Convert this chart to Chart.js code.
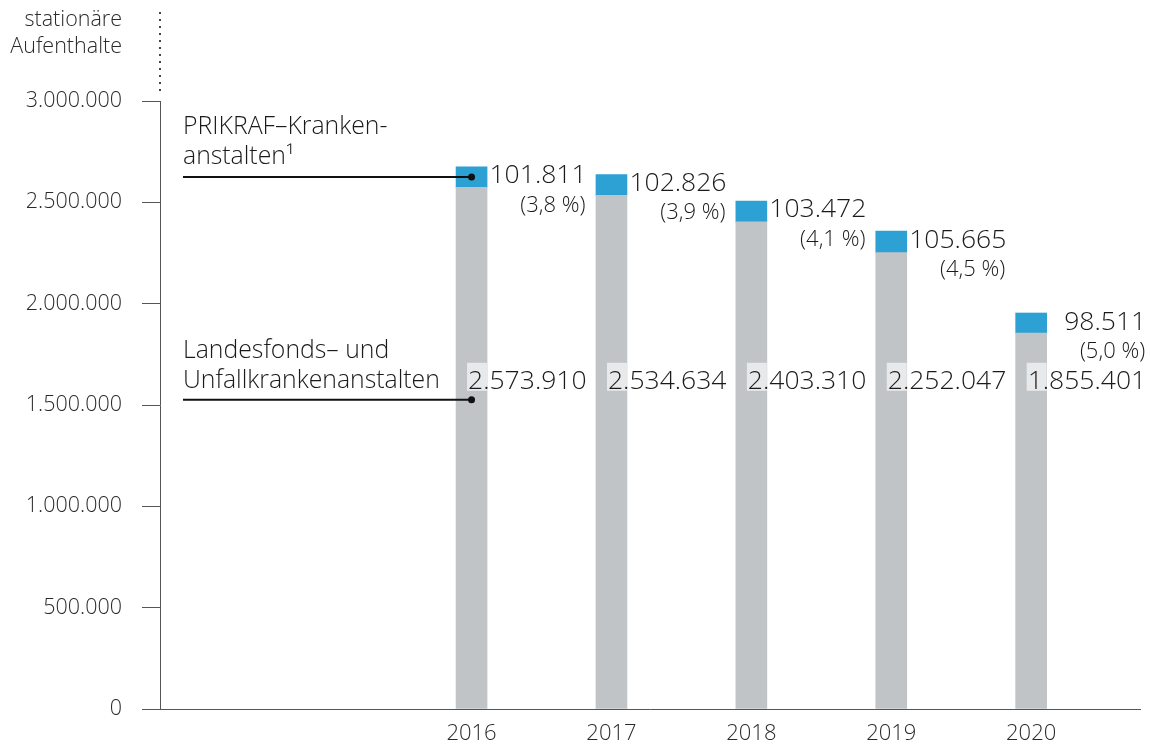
<!DOCTYPE html>
<html>
<head>
<meta charset="utf-8">
<script src="https://cdn.jsdelivr.net/npm/chart.js@4.4.1/dist/chart.umd.min.js"></script>
<style>
  html, body { margin: 0; padding: 0; background: #fff; }
  #wrap { width: 1150px; height: 747px; position: relative; }
</style>
</head>
<body>
<div id="wrap"><canvas id="c"></canvas></div>
<script>
// ---- data ----
const years = [2016, 2017, 2018, 2019, 2020];
const landesfonds = [2573910, 2534634, 2403310, 2252047, 1855401];
const prikraf = [101811, 102826, 103472, 105665, 98511];
const prikrafShare = ['(3,8 %)', '(3,9 %)', '(4,1 %)', '(4,5 %)', '(5,0 %)'];
const yAxisTitle = ['stationäre', 'Aufenthalte'];
const prikrafLabel = ['PRIKRAF\u2013Kranken-', 'anstalten\u00B9'];
const landesLabel = ['Landesfonds\u2013 und', 'Unfallkrankenanstalten'];

const FONT = '"Open Sans", "Noto Sans", sans-serif';
const GRAY = '#c0c4c7';
const BLUE = '#2ea1d4';
const AXIS = '#555';
const TEXT = '#1a1a1a';

function fmt(n) { return String(n).replace(/\B(?=(\d{3})+(?!\d))/g, '.'); }

const labelPlugin = {
  id: 'labels',
  afterDraw(chart) {
    const ctx = chart.ctx;
    const xs = chart.scales.x, ys = chart.scales.y;
    const area = chart.chartArea;
    ctx.save();

    // dotted continuation of the y axis
    ctx.fillStyle = '#444';
    for (let yy = 12; yy <= area.top - 8; yy += 7) {
      ctx.fillRect(area.left - 1, yy, 2, 2);
    }

    // y axis title
    ctx.fillStyle = '#2a2a2a';
    ctx.font = '300 21.5px ' + FONT;
    ctx.textAlign = 'right';
    ctx.textBaseline = 'middle';
    ctx.fillText(yAxisTitle[0], area.left - 38, 20);
    ctx.fillText(yAxisTitle[1], area.left - 38, 47);

    const grayLabelBase = ys.getPixelForValue(1580000);

    years.forEach((yr, i) => {
      const xc = xs.getPixelForValue(yr);
      const barRight = xc + 15.5;
      // gray value label with translucent box
      ctx.font = '300 26.5px ' + FONT;
      ctx.textAlign = 'left';
      ctx.textBaseline = 'alphabetic';
      const t = fmt(landesfonds[i]);
      const w = ctx.measureText(t).width;
      const left = xc - 3.5;
      const right = left + w;
      ctx.fillStyle = 'rgba(255,255,255,0.63)';
      ctx.fillRect(left - 1, grayLabelBase - 26, barRight - left + 1, 28);
      ctx.fillStyle = TEXT;
      ctx.fillText(t, left, grayLabelBase);

      // blue value label
      const top = ys.getPixelForValue(landesfonds[i] + prikraf[i]);
      ctx.textAlign = 'right';
      ctx.fillText(fmt(prikraf[i]), right, top + 16.5);
      ctx.font = '300 22px ' + FONT;
      ctx.fillText(prikrafShare[i], right - 1, top + 45);
    });

    // annotations
    const x0 = xs.getPixelForValue(years[0]);
    const lineStart = area.left + 23;
    const y1 = ys.getPixelForValue(landesfonds[0] + prikraf[0] / 2);
    const y2 = grayLabelBase + 11;
    ctx.strokeStyle = '#111';
    ctx.fillStyle = '#111';
    ctx.lineWidth = 2;
    [y1, y2].forEach(yy => {
      ctx.beginPath();
      ctx.moveTo(lineStart, yy);
      ctx.lineTo(x0, yy);
      ctx.stroke();
      ctx.beginPath();
      ctx.arc(x0, yy, 3.5, 0, Math.PI * 2);
      ctx.fill();
    });
    ctx.fillStyle = TEXT;
    ctx.font = '300 24.8px ' + FONT;
    ctx.textAlign = 'left';
    ctx.textBaseline = 'alphabetic';
    ctx.fillText(prikrafLabel[0], lineStart, y1 - 43);
    ctx.fillText(prikrafLabel[1], lineStart, y1 - 13);
    ctx.fillText(landesLabel[0], lineStart, y2 - 42);
    ctx.fillText(landesLabel[1], lineStart, y2 - 12);

    ctx.restore();
  }
};

new Chart(document.getElementById('c'), {
  type: 'bar',
  data: {
    datasets: [
      {
        label: 'Landesfonds- und Unfallkrankenanstalten',
        data: years.map((yr, i) => ({ x: yr, y: landesfonds[i] })),
        backgroundColor: GRAY,
        barThickness: 31
      },
      {
        label: 'PRIKRAF-Krankenanstalten',
        data: years.map((yr, i) => ({ x: yr, y: prikraf[i] })),
        backgroundColor: BLUE,
        barThickness: 31
      }
    ]
  },
  options: {
    responsive: true,
    maintainAspectRatio: false,
    animation: false,
    events: [],
    layout: { padding: { top: 101, right: 10, bottom: 0, left: 0 } },
    plugins: { legend: { display: false }, tooltip: { enabled: false } },
    scales: {
      x: {
        type: 'linear',
        stacked: true,
        min: 2013.773,
        max: 2020.778,
        offset: false,
        afterBuildTicks(scale) { scale.ticks = years.map(v => ({ value: v })); },
        afterFit(scale) { scale.height = 38; },
        grid: { display: false, drawTicks: false },
        border: { display: true, color: AXIS, width: 1 },
        ticks: {
          padding: 12,
          color: '#2a2a2a',
          font: { family: FONT, size: 22, weight: '300' },
          callback: v => String(v),
          maxRotation: 0,
          autoSkip: false
        }
      },
      y: {
        stacked: true,
        min: 0,
        max: 3000000,
        afterFit(scale) { scale.width = 160; },
        grid: { display: true, drawOnChartArea: false, drawTicks: true, tickLength: 18, color: AXIS, lineWidth: 1 },
        border: { display: true, color: AXIS, width: 1 },
        ticks: {
          stepSize: 500000,
          padding: 20,
          color: '#2a2a2a',
          font: { family: FONT, size: 21.5, weight: '300' },
          callback: v => fmt(v)
        }
      }
    }
  },
  plugins: [labelPlugin]
});
</script>
</body>
</html>
